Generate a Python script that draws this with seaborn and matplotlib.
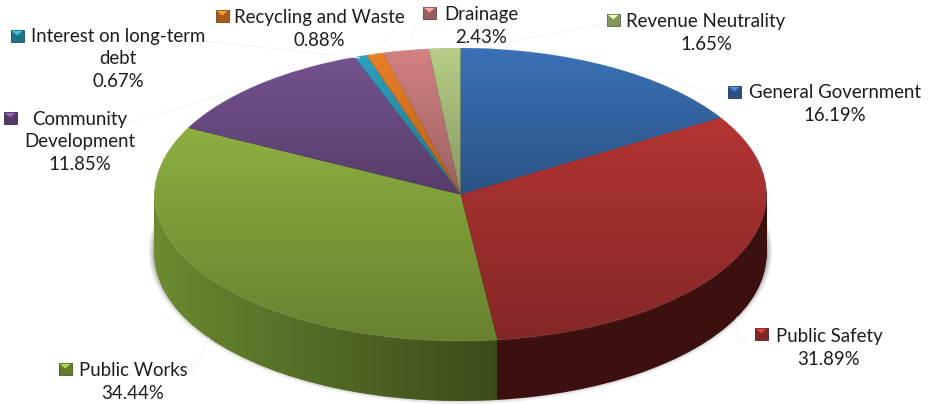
import numpy as np
import matplotlib
matplotlib.use("Agg")
import matplotlib.pyplot as plt
from matplotlib.patches import Ellipse, Polygon
from matplotlib.colors import to_rgb
import seaborn as sns

categories = ["General Government", "Public Safety", "Public Works", "Community\nDevelopment",
              "Interest on long-term\ndebt", "Recycling and Waste", "Drainage", "Revenue Neutrality"]
values = [16.19, 31.89, 34.44, 11.85, 0.67, 0.88, 2.43, 1.65]
top_colors = ["#3A71B5", "#B23533", "#8CAF40", "#74528F", "#2F9FBB", "#EA8026", "#D28282", "#B6CE86"]
side_colors = ["#24466F", "#3C100F", "#6B8B30", "#3E2B52", "#1C6072", "#8E4D16", "#7F4F4F", "#6F7D51"]
label_centers = [(835, 104), (829, 348), (133, 382), (80, 142), (118, 59), (319, 29), (481, 26), (706, 33)]
key_boxes = [(728, 86), (755, 328), (59, 363), (4, 112), (11, 30), (216, 10), (423, 7), (607, 14)]
leaders = [[(718, 97), (655, 72)], [(737, 317), (739, 341), (748, 341)], [(209, 338), (192, 375)],
           [(130, 123), (245, 88)], [(205, 41), (360, 58)], [(400, 24), (372, 55)],
           [(415, 24), (406, 50)], [(600, 25), (505, 42)]]

W, H = 932, 404
CX, CY, RX, RY, DEPTH = 460.5, 194.5, 306.0, 146.5, 60

sns.set_theme(style="white")
plt.rcParams["font.family"] = ["Lato", "DejaVu Sans"]
fig = plt.figure(figsize=(W / 100, H / 100), dpi=100, facecolor="white")
ax = fig.add_axes([0, 0, 1, 1])

palette_top = sns.color_palette(top_colors)
palette_side = sns.color_palette(side_colors)
depth_u = DEPTH / RY

# Soft shadow behind the extruded body
for k, a in zip([6, 4.5, 3, 1.5], [0.07, 0.10, 0.13, 0.18]):
    ax.add_patch(Ellipse((0, -(DEPTH - 3) / RY), 2 * (RX + k) / RX, 2 * (RY + k) / RY,
                         fc="#404040", ec="none", alpha=a, zorder=0))

# Side wall: the same slices stacked downward
for i, d in enumerate(np.arange(DEPTH, 0, -1.0)):
    ax.pie(values, colors=palette_side, startangle=90, counterclock=False,
           center=(0, -d / RY), radius=1, wedgeprops=dict(linewidth=0, zorder=1 + i * 1e-3))

# Horizontal shading on the wall
body = np.linspace(0, np.pi, 200)
outline = np.vstack([np.c_[np.cos(body), np.sin(body)],
                     np.c_[np.cos(body + np.pi), np.sin(body + np.pi) - depth_u]])
clip = Polygon(outline, closed=True, transform=ax.transData, fc="none", ec="none")
ax.add_patch(clip)
seam = np.sin(np.deg2rad(sum(values[:2]) * 3.6))
xs = np.linspace(-1, 1, 400)
shade = np.zeros((1, 400, 4))
shade[0, :, 3] = np.where(xs < seam, np.clip((xs + 1) / (seam + 1), 0, 1) ** 0.9 * 0.45, 0.0)
im = ax.imshow(shade, extent=(-1, 1, -2, 1), aspect="auto", zorder=2, interpolation="bilinear")
im.set_clip_path(clip)

# Top face
wedges, _ = ax.pie(values, colors=palette_top, startangle=90, counterclock=False,
                   center=(0, 0), radius=1, wedgeprops=dict(linewidth=0, zorder=3))
grad = np.zeros((100, 1, 4))
grad[:, 0, 3] = np.linspace(0, 0.26, 100)
for w in wedges:
    ext = w.get_path().get_extents(w.get_patch_transform())
    g = ax.imshow(grad, extent=(ext.x0, ext.x1, ext.y0, ext.y1), aspect="auto",
                  origin="upper", zorder=4, interpolation="bilinear")
    g.set_clip_path(w)
ax.add_patch(Ellipse((0, 0), 2, 2, fc="none", ec=(1, 1, 1, 0.12), lw=0.7, zorder=5))

ax.set_xlim(-CX / RX, (W - CX) / RX)
ax.set_ylim(-(H - CY) / RY, CY / RY)
ax.set_aspect("auto")
ax.set_axis_off()

# Pixel-space overlay for labels, keys and leader lines
ov = fig.add_axes([0, 0, 1, 1], facecolor="none")
ov.set_xlim(0, W)
ov.set_ylim(H, 0)
ov.set_axis_off()

for pts in leaders:
    p = np.array(pts)
    ov.plot(p[:, 0], p[:, 1], color="#f3f3f3", lw=0.7, zorder=1)

for name, v, (tx, ty), (kx, ky), col in zip(categories, values, label_centers, key_boxes, palette_top):
    ov.text(tx, ty, f"{name}\n{v:.2f}%", ha="center", va="center", fontsize=13.4,
            color="#1c1c1c", linespacing=1.38, zorder=5)
    c = np.array(to_rgb(col))
    ov.add_patch(Polygon([(kx, ky), (kx + 12.5, ky), (kx + 12.5, ky + 11.5), (kx, ky + 11.5)],
                         fc=c * 0.72, ec=c * 0.5, lw=0.6, zorder=3))
    ov.add_patch(Polygon([(kx + 0.8, ky + 0.8), (kx + 11.7, ky + 0.8), (kx + 6.25, ky + 5.5)],
                         fc=np.clip(c * 1.25, 0, 1), ec="none", zorder=4))

fig.savefig("out.png", dpi=100, facecolor="white")
